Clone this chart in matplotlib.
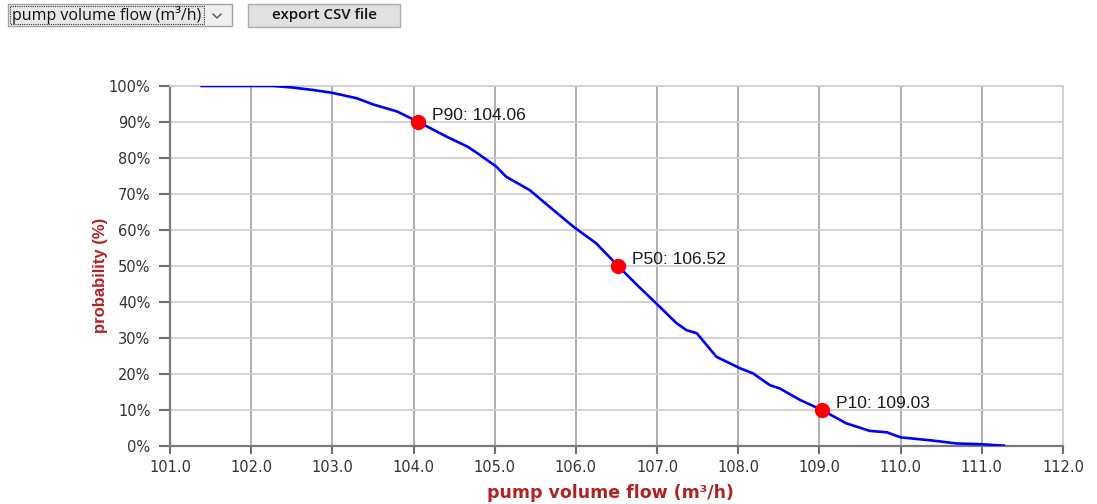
import matplotlib
matplotlib.use("Agg")
import matplotlib.pyplot as plt
from matplotlib.patches import Rectangle
from matplotlib.lines import Line2D

# Exceedance curve of the simulated pump volume flow
flow = [101.39, 101.8, 102.27, 102.5, 102.76, 103.0, 103.3, 103.5, 103.8, 104.06,
        104.41, 104.67, 104.82, 105.02, 105.14, 105.43, 105.72, 105.97, 106.25, 106.52,
        106.75, 106.99, 107.24, 107.36, 107.49, 107.73, 108.02, 108.18, 108.39, 108.51,
        108.76, 109.03, 109.33, 109.62, 109.83, 110.0, 110.40, 110.69, 110.99, 111.27]
probability = [100, 100, 100, 99.6, 98.9, 98.1, 96.6, 94.9, 92.9, 90,
               85.9, 83.1, 80.8, 77.6, 74.8, 71.1, 65.6, 60.9, 56.3, 50,
               44.8, 39.6, 34.1, 32.2, 31.3, 24.8, 21.6, 20.2, 16.9, 16.0,
               12.8, 10, 6.3, 4.2, 3.8, 2.4, 1.5, 0.7, 0.5, 0.1]

# Percentile markers
p_names = ["P90", "P50", "P10"]
p_flow = [104.06, 106.52, 109.03]
p_prob = [90, 50, 10]

x_ticks = [101, 102, 103, 104, 105, 106, 107, 108, 109, 110, 111, 112]
x_ticklabels = ["101.0", "102.0", "103.0", "104.0", "105.0", "106.0",
                "107.0", "108.0", "109.0", "110.0", "111.0", "112.0"]
y_ticks = [0, 10, 20, 30, 40, 50, 60, 70, 80, 90, 100]
y_ticklabels = ["0%", "10%", "20%", "30%", "40%", "50%", "60%", "70%", "80%", "90%", "100%"]

W, H = 1097, 504
fig = plt.figure(figsize=(W / 100, H / 100), dpi=100)
fig.patch.set_facecolor("white")

left, right, top, bottom = 170, 1063, 86, 446
ax = fig.add_axes([left / W, 1 - bottom / H, (right - left) / W, (bottom - top) / H])
ax.set_facecolor("white")

ax.plot(flow, probability, color="#0000ff", lw=1.9, zorder=3, solid_joinstyle="round")
ax.plot(p_flow, p_prob, "o", color="#ff0000", markersize=11, markeredgewidth=0, zorder=4)
for name, xv, yv in zip(p_names, p_flow, p_prob):
    ax.annotate(f"{name}: {xv:.2f}", (xv, yv), xytext=(10, 5), textcoords="offset points",
                fontsize=12.5, family=["Liberation Sans", "DejaVu Sans"], color="#1a1a1a",
                va="center", ha="left", zorder=5)

ax.set_xlim(101, 112)
ax.set_ylim(0, 100)
ax.set_xticks(x_ticks)
ax.set_xticklabels(x_ticklabels)
ax.set_yticks(y_ticks)
ax.set_yticklabels(y_ticklabels)

ax.xaxis.grid(True, color="#a8a8a8", lw=1.3)
ax.yaxis.grid(True, color="#d0d0d0", lw=1.3)
ax.set_axisbelow(True)

for side in ("left", "bottom"):
    ax.spines[side].set_color("#7a7a7a")
    ax.spines[side].set_linewidth(1.6)
for side in ("top", "right"):
    ax.spines[side].set_color("#d0d0d0")
    ax.spines[side].set_linewidth(1.3)

ax.tick_params(axis="x", length=6, width=1.5, color="#6e6e6e", pad=4,
               labelsize=10.5, labelcolor="#333333")
ax.tick_params(axis="y", length=8, width=1.5, color="#6e6e6e", pad=6,
               labelsize=10.5, labelcolor="#333333")

ax.set_xlabel("pump volume flow (m³/h)", fontsize=12.5, fontweight="bold", color="#b22222",
              va="center")
ax.xaxis.set_label_coords(0.493, -0.13)
ax.set_ylabel("probability (%)", fontsize=12, fontweight="bold", color="#b22222",
              family=["Liberation Sans", "DejaVu Sans"], va="center")
ax.yaxis.set_label_coords(-0.078, 0.475)

# Toolbar controls above the chart
ui = fig.add_axes([0, 0, 1, 1], zorder=-1)
ui.set_xlim(0, W)
ui.set_ylim(H, 0)
ui.axis("off")

# Drop-down selector
ui.add_patch(Rectangle((8, 4), 224, 22, facecolor="#f0f0f0", edgecolor="#a0a0a0", lw=1))
ui.add_patch(Rectangle((10, 6), 194, 18, facecolor="#e8e8e8", edgecolor="#333333",
                       lw=0.8, linestyle=(0, (1, 1))))
ui.text(12, 15.5, "pump volume flow (m³/h)", fontsize=11.5, family=["Open Sans", "DejaVu Sans"],
        color="#111111", va="center", ha="left")
ui.add_line(Line2D([213, 217, 221], [14, 18, 14], color="#555555", lw=1))

# Export button
ui.add_patch(Rectangle((248, 4), 152, 23, facecolor="#e1e1e1", edgecolor="#adadad", lw=1))
ui.text(324, 15.5, "export CSV file", fontsize=10.8, family=["Open Sans", "DejaVu Sans"],
        fontweight="semibold", color="#111111", va="center", ha="center")

fig.savefig("out.png", dpi=100, facecolor="white")
